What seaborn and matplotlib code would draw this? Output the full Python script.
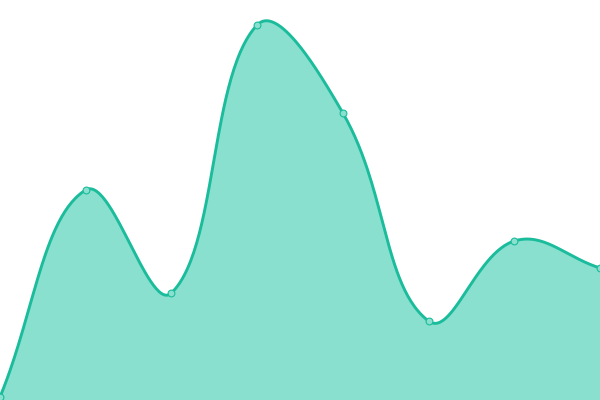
"""
Smooth filled area line (sparkline style), no axes.
"""

import numpy as np
import matplotlib
matplotlib.use("Agg")
import matplotlib.pyplot as plt
import seaborn as sns

steps  = [0, 1, 2, 3, 4, 5, 6, 7]
values = [3, 210, 107, 375, 287, 79, 159, 132]

LINE_COLOR = "#1abc9c"
FILL_COLOR = "#8ae0cf"
TENSION    = 0.4
W, H       = 600, 400
Y_MAX      = 400


def spline_curve(xs, ys, tension=TENSION, n=60):
    # bezier control points computed in pixel space (chart.js style)
    sx = W / (len(xs) - 1)
    sy = H / Y_MAX
    px = np.asarray(xs, float) * sx
    py = np.asarray(ys, float) * sy
    k = len(px)
    cp_prev = np.zeros((k, 2))
    cp_next = np.zeros((k, 2))
    for i in range(k):
        prev = np.array([px[max(i - 1, 0)], py[max(i - 1, 0)]])
        cur  = np.array([px[i], py[i]])
        nxt  = np.array([px[min(i + 1, k - 1)], py[min(i + 1, k - 1)]])
        d01 = np.hypot(*(cur - prev))
        d12 = np.hypot(*(nxt - cur))
        tot = d01 + d12
        s01 = d01 / tot if tot else 0
        s12 = d12 / tot if tot else 0
        cp_prev[i] = cur - tension * s01 * (nxt - prev)
        cp_next[i] = cur + tension * s12 * (nxt - prev)

    t = np.linspace(0, 1, n)[:, None]
    pts = []
    for i in range(k - 1):
        p0 = np.array([px[i], py[i]])
        p3 = np.array([px[i + 1], py[i + 1]])
        p1, p2 = cp_next[i], cp_prev[i + 1]
        seg = ((1 - t) ** 3 * p0 + 3 * (1 - t) ** 2 * t * p1
               + 3 * (1 - t) * t ** 2 * p2 + t ** 3 * p3)
        pts.append(seg if i == 0 else seg[1:])
    pts = np.vstack(pts)
    return pts[:, 0] / sx, pts[:, 1] / sy


sns.set_style("white")
fig = plt.figure(figsize=(6, 4), dpi=100)
ax = fig.add_axes([0, 0, 1, 1])

cx, cy = spline_curve(steps, values)
ax.fill_between(cx, 0, cy, color=FILL_COLOR, linewidth=0)
sns.lineplot(x=cx, y=cy, sort=False, color=LINE_COLOR, linewidth=2.1, ax=ax)
sns.scatterplot(x=steps, y=values, s=24, color=FILL_COLOR,
                edgecolor=LINE_COLOR, linewidth=0.8, zorder=5, ax=ax,
                clip_on=False)

ax.set_xlim(0, len(steps) - 1)
ax.set_ylim(0, Y_MAX)
ax.axis("off")

plt.savefig("out.png", dpi=100)
